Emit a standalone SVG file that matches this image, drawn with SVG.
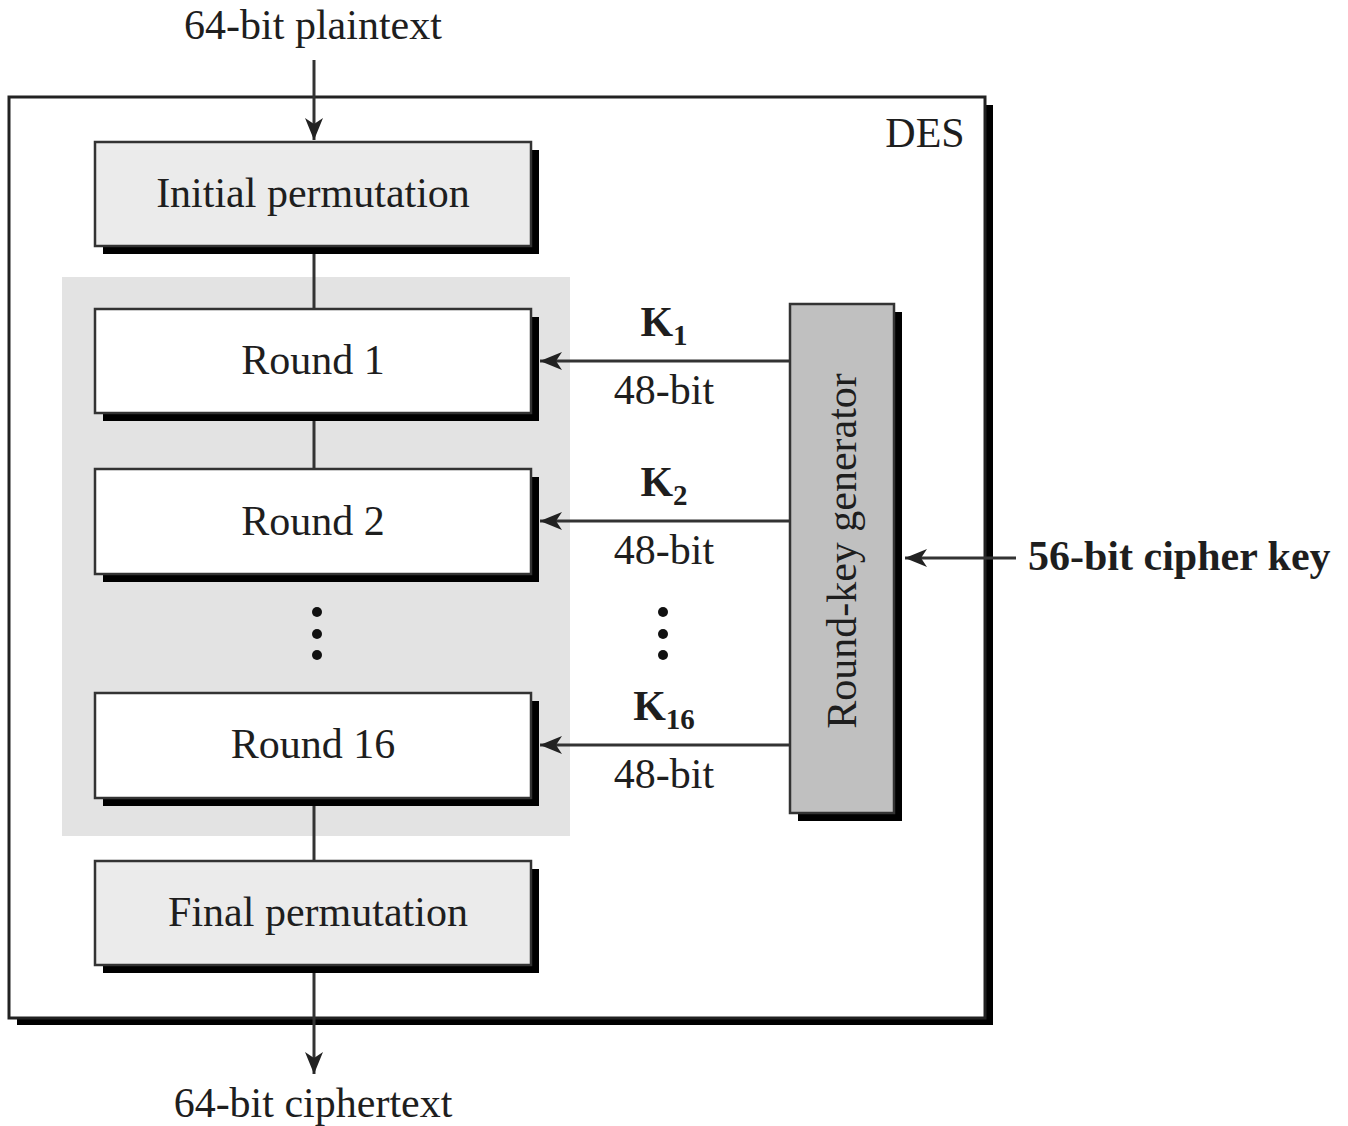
<svg xmlns="http://www.w3.org/2000/svg" width="1348" height="1126" viewBox="0 0 1348 1126">
<style>
text{font-family:"Liberation Serif","Times New Roman",serif;font-size:42px;fill:#1e1e1e}
.c{text-anchor:middle}
.b{font-weight:bold}
.sh{fill:#000}
.box{stroke:#333;stroke-width:2.5}
.perm{fill:#ebebeb}
.round{fill:#fff}
.line{stroke:#333;stroke-width:3;fill:none}
.dot{fill:#111}
</style>
<defs>
<marker id="ah" markerWidth="24" markerHeight="20" refX="22" refY="10" orient="auto" markerUnits="userSpaceOnUse">
<path d="M0,1 L22,10 L0,19 L6,10 Z" fill="#222"/>
</marker>
</defs>
<rect width="1348" height="1126" fill="#fff"/>

<g id="des">
<rect x="17" y="105" width="976" height="920" class="sh"/>
<rect x="9" y="97" width="976" height="921" fill="#fff" stroke="#222" stroke-width="3"/>
<text x="925" y="147" class="c">DES</text>
</g>

<g id="rounds-bg">
<rect x="62" y="277" width="508" height="559" fill="#e3e3e3"/>
</g>

<g id="connectors">
<line x1="314" y1="60" x2="314" y2="140" class="line" marker-end="url(#ah)"/>
<line x1="314" y1="254" x2="314" y2="309" class="line"/>
<line x1="314" y1="421" x2="314" y2="469" class="line"/>
<line x1="314" y1="806" x2="314" y2="861" class="line"/>
<line x1="314" y1="973" x2="314" y2="1074" class="line" marker-end="url(#ah)"/>
<line x1="790" y1="361" x2="540" y2="361" class="line" marker-end="url(#ah)"/>
<line x1="790" y1="521" x2="540" y2="521" class="line" marker-end="url(#ah)"/>
<line x1="790" y1="745" x2="540" y2="745" class="line" marker-end="url(#ah)"/>
<line x1="1016" y1="558" x2="905" y2="558" class="line" marker-end="url(#ah)"/>
</g>

<g id="initial-permutation">
<rect x="103" y="150" width="436" height="104" class="sh"/>
<rect x="95" y="142" width="436" height="104" class="box perm"/>
<text x="313" y="207" class="c">Initial permutation</text>
</g>

<g id="round1">
<rect x="103" y="317" width="436" height="104" class="sh"/>
<rect x="95" y="309" width="436" height="104" class="box round"/>
<text x="313" y="374" class="c">Round 1</text>
</g>

<g id="round2">
<rect x="103" y="477" width="436" height="105" class="sh"/>
<rect x="95" y="469" width="436" height="105" class="box round"/>
<text x="313" y="535" class="c">Round 2</text>
</g>

<g id="dots-left">
<circle cx="317" cy="612" r="5" class="dot"/>
<circle cx="317" cy="634" r="5" class="dot"/>
<circle cx="317" cy="655" r="5" class="dot"/>
</g>

<g id="round16">
<rect x="103" y="701" width="436" height="105" class="sh"/>
<rect x="95" y="693" width="436" height="105" class="box round"/>
<text x="313" y="758" class="c">Round 16</text>
</g>

<g id="final-permutation">
<rect x="103" y="869" width="436" height="104" class="sh"/>
<rect x="95" y="861" width="436" height="104" class="box perm"/>
<text x="318" y="926" class="c">Final permutation</text>
</g>

<g id="round-key-generator">
<rect x="798" y="312" width="104" height="509" class="sh"/>
<rect x="790" y="304" width="104" height="509" fill="#c0c0c0" stroke="#333" stroke-width="2.5"/>
<text x="0" y="0" class="c" transform="translate(856,551) rotate(-90)">Round-key generator</text>
</g>

<g id="key-labels">
<text x="664" y="336" class="c b">K<tspan font-size="29" dy="9">1</tspan></text>
<text x="664" y="404" class="c">48-bit</text>
<text x="664" y="496" class="c b">K<tspan font-size="29" dy="9">2</tspan></text>
<text x="664" y="564" class="c">48-bit</text>
<text x="664" y="720" class="c b">K<tspan font-size="29" dy="9">16</tspan></text>
<text x="664" y="788" class="c">48-bit</text>
<circle cx="663" cy="612" r="5" class="dot"/>
<circle cx="663" cy="634" r="5" class="dot"/>
<circle cx="663" cy="655" r="5" class="dot"/>
</g>

<g id="plaintext">
<text x="313" y="39" class="c">64-bit plaintext</text>
</g>
<g id="ciphertext">
<text x="313" y="1117" class="c">64-bit ciphertext</text>
</g>
<g id="cipher-key">
<text x="1028" y="570" class="b">56-bit cipher key</text>
</g>
</svg>
